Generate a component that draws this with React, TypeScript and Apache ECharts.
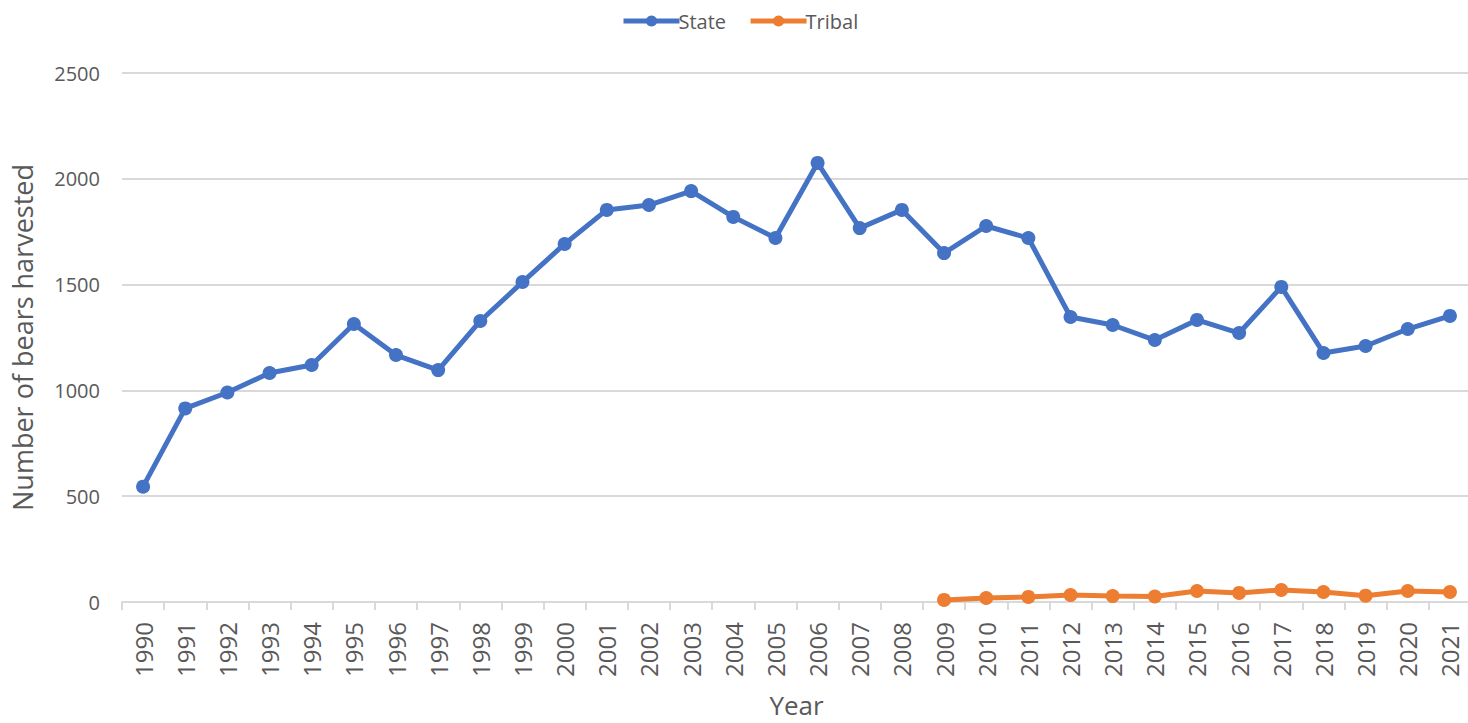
import React, { useEffect, useRef } from "react";
import * as echarts from "echarts";

const years = [
  "1990","1991","1992","1993","1994","1995","1996","1997","1998","1999",
  "2000","2001","2002","2003","2004","2005","2006","2007","2008","2009",
  "2010","2011","2012","2013","2014","2015","2016","2017","2018","2019",
  "2020","2021",
];

const stateValues = [
  545, 915, 990, 1082, 1120, 1314, 1167, 1096, 1328, 1512,
  1692, 1853, 1876, 1942, 1820, 1720, 2075, 1767, 1853, 1649,
  1777, 1720, 1347, 1309, 1238, 1333, 1271, 1489, 1177, 1210,
  1290, 1352,
];

const tribalValues = [
  null, null, null, null, null, null, null, null, null, null,
  null, null, null, null, null, null, null, null, null, 10,
  19, 24, 33, 28, 26, 52, 43, 57, 47, 30,
  52, 47,
];

const yTicks = { min: 0, max: 2500, interval: 500 };

const FONT = "'Open Sans', 'Liberation Sans', sans-serif";
const TEXT = "#595959";
const GRID = "#d9d9d9";

export default function App() {
  const ref = useRef<HTMLDivElement>(null);
  useEffect(() => {
    if (!ref.current) return;
    const chart = echarts.init(ref.current, null, { renderer: "svg" });
    chart.setOption({
      animation: false,
      textStyle: { fontFamily: FONT },
      legend: {
        top: 6,
        left: 616,
        itemWidth: 56,
        itemHeight: 14,
        itemGap: 22,
        lineStyle: { width: 5 },
        textStyle: { color: TEXT, fontSize: 20, fontFamily: FONT, padding: [0, 0, 0, -6] },
        data: ["State", "Tribal"],
      },
      grid: { left: 122, right: -3, top: 73, bottom: 121, containLabel: false, outerBoundsMode: "none" },
      xAxis: {
        type: "category",
        data: years,
        boundaryGap: true,
        name: "Year",
        nameLocation: "middle",
        nameGap: 90,
        nameTextStyle: { color: TEXT, fontSize: 26, fontFamily: FONT },
        axisLine: { show: true, lineStyle: { color: GRID, width: 2 } },
        axisTick: { show: true, length: 8, lineStyle: { color: GRID, width: 2 } },
        axisLabel: { rotate: 90, color: TEXT, fontSize: 24, fontFamily: FONT, margin: 20, interval: 0 },
      },
      yAxis: {
        type: "value",
        min: yTicks.min,
        max: yTicks.max,
        interval: yTicks.interval,
        name: "Number of bears harvested",
        nameLocation: "middle",
        nameGap: 86,
        nameTextStyle: { color: TEXT, fontSize: 27, fontFamily: FONT },
        axisLine: { show: false },
        axisTick: { show: false },
        axisLabel: { color: TEXT, fontSize: 20, fontFamily: FONT, margin: 22, formatter: (v: number) => String(v) },
        splitLine: { lineStyle: { color: GRID, width: 2 } },
      },
      series: [
        {
          name: "State",
          type: "line",
          data: stateValues,
          symbol: "circle",
          symbolSize: 14,
          lineStyle: { width: 5, color: "#4472C4" },
          itemStyle: { color: "#4472C4" },
        },
        {
          name: "Tribal",
          type: "line",
          data: tribalValues,
          symbol: "circle",
          symbolSize: 14,
          lineStyle: { width: 5, color: "#ED7D31" },
          itemStyle: { color: "#ED7D31" },
        },
      ],
    });
    return () => chart.dispose();
  }, []);
  return (
    <div
      ref={ref}
      style={{ position: "absolute", left: 0, top: 0, width: 1468, height: 723, background: "#fff" }}
    />
  );
}
